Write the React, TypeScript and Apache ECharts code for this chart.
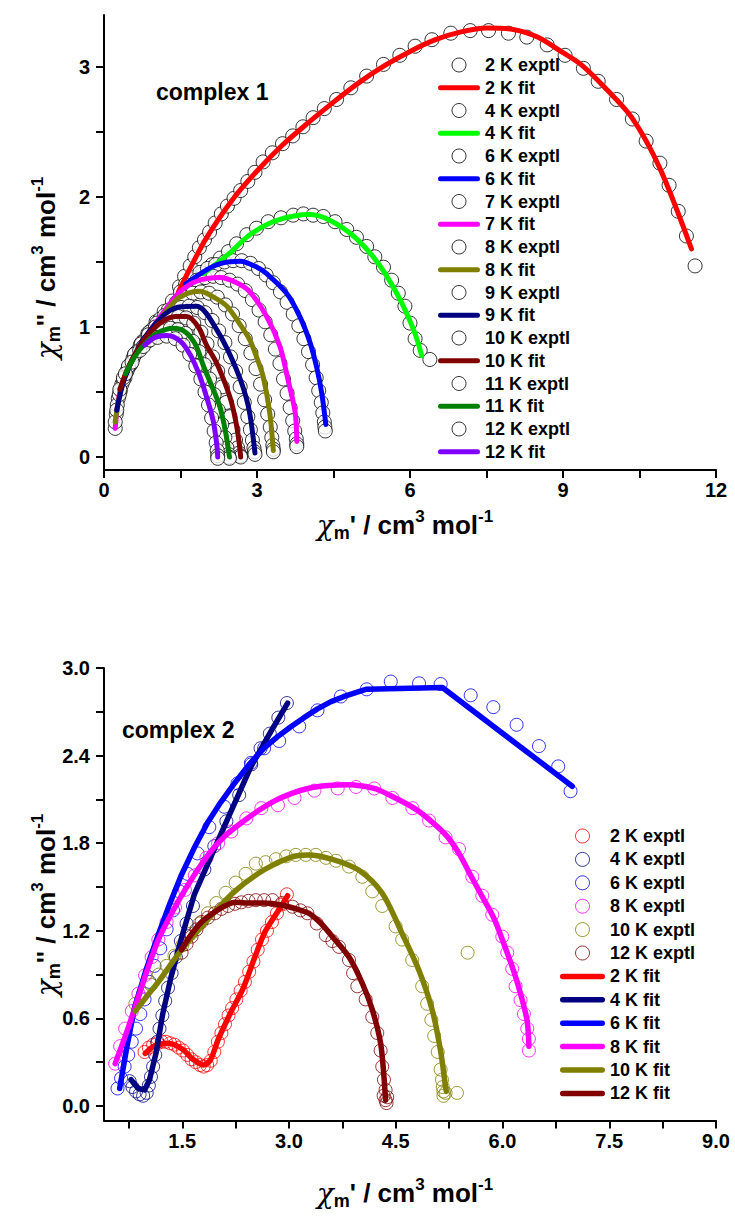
import React, { useEffect, useRef } from "react";
import * as echarts from "echarts";

const FONT = "'Liberation Sans', Arial, Helvetica, sans-serif";

// ---------- complex 1 (top) ----------
const TOP_X_TICKS = [0, 1.5, 3, 4.5, 6, 7.5, 9, 10.5, 12];
const TOP_X_LABELS = [0, 3, 6, 9, 12];
const TOP_Y_TICKS = [0, 0.5, 1, 1.5, 2, 2.5, 3];
const TOP_Y_LABELS = [0, 1, 2, 3];

const EXP1_2K = [[1.48,1.31],[1.58,1.39],[1.69,1.47],[1.78,1.54],[1.87,1.61],[1.97,1.67],[2.07,1.73],[2.18,1.80],[2.30,1.87],[2.42,1.93],[2.55,1.99],[2.68,2.05],[2.82,2.12],[2.96,2.19],[3.12,2.27],[3.30,2.34],[3.50,2.41],[3.70,2.47],[3.90,2.54],[4.10,2.61],[4.32,2.68],[4.56,2.75],[4.84,2.84],[5.15,2.93],[5.48,3.02],[5.80,3.09],[6.10,3.16],[6.43,3.21],[6.80,3.26],[7.18,3.28],[7.54,3.28],[7.93,3.26],[8.29,3.23],[8.69,3.17],[9.04,3.09],[9.40,2.99],[9.69,2.89],[10.05,2.75],[10.36,2.60],[10.63,2.43],[10.90,2.26],[11.08,2.09],[11.26,1.89],[11.42,1.70],[11.59,1.47]];
const FIT1_2K = [[1.46,1.27],[1.7,1.46],[2.0,1.68],[2.5,1.97],[3.0,2.2],[3.5,2.40],[4.0,2.57],[4.5,2.73],[5.0,2.88],[5.5,3.01],[6.0,3.12],[6.5,3.21],[7.0,3.27],[7.5,3.30],[8.0,3.29],[8.5,3.23],[9.0,3.11],[9.35,3.02],[9.8,2.85],[10.35,2.61],[10.9,2.22],[11.52,1.60]];

const EXP1_4K = [[1.95,1.41],[2.12,1.48],[2.28,1.53],[2.44,1.58],[2.60,1.64],[2.80,1.71],[2.99,1.76],[3.22,1.81],[3.47,1.84],[3.71,1.86],[3.91,1.87],[4.10,1.86],[4.30,1.85],[4.53,1.81],[4.76,1.75],[4.95,1.69],[5.15,1.62],[5.31,1.54],[5.48,1.46],[5.64,1.36],[5.77,1.26],[5.90,1.16],[6.00,1.03],[6.10,0.91],[6.20,0.82],[6.39,0.75]];
const FIT1_4K = [[1.95,1.41],[2.44,1.56],[2.86,1.71],[3.39,1.82],[4.04,1.865],[4.69,1.76],[5.28,1.54],[5.74,1.26],[6.07,0.98],[6.23,0.78]];

const EXP1_6K = [[1.60,1.33],[1.74,1.38],[1.88,1.42],[2.03,1.45],[2.19,1.48],[2.36,1.50],[2.53,1.51],[2.70,1.51],[2.87,1.49],[3.03,1.45],[3.18,1.40],[3.32,1.34],[3.46,1.27],[3.59,1.19],[3.71,1.10],[3.82,1.01],[3.92,0.91],[4.01,0.81],[4.09,0.71],[4.16,0.61],[4.21,0.51],[4.26,0.42],[4.29,0.34],[4.32,0.27],[4.33,0.23],[4.34,0.20]];
const FIT1_6K = [[1.6,1.33],[2.01,1.44],[2.3,1.49],[2.67,1.505],[3.0,1.46],[3.19,1.41],[3.58,1.26],[3.84,1.08],[4.04,0.88],[4.17,0.69],[4.27,0.49],[4.35,0.25]];

const EXP1_7K = [[0.22,0.22],[0.24,0.33],[0.28,0.45],[0.35,0.56],[0.45,0.66],[0.57,0.76],[0.71,0.86],[0.86,0.95],[1.02,1.04],[1.18,1.12],[1.34,1.20],[1.50,1.27],[1.66,1.32],[1.82,1.36],[1.98,1.38],[2.14,1.39],[2.30,1.38],[2.46,1.36],[2.62,1.33],[2.77,1.28],[2.91,1.21],[3.04,1.13],[3.16,1.04],[3.27,0.94],[3.36,0.83],[3.45,0.72],[3.52,0.60],[3.59,0.49],[3.65,0.38],[3.70,0.28],[3.74,0.20],[3.77,0.14],[3.78,0.10],[3.78,0.08]];
const FIT1_7K = [[0.22,0.22],[0.3,0.48],[0.5,0.70],[0.8,0.91],[1.2,1.13],[1.49,1.27],[1.8,1.35],[2.27,1.38],[2.6,1.34],[2.86,1.27],[3.19,1.08],[3.45,0.85],[3.61,0.59],[3.75,0.34],[3.78,0.12]];

const EXP1_8K = [[0.22,0.27],[0.26,0.40],[0.32,0.51],[0.41,0.61],[0.52,0.71],[0.65,0.81],[0.79,0.90],[0.94,0.98],[1.10,1.06],[1.26,1.13],[1.42,1.19],[1.58,1.23],[1.74,1.26],[1.90,1.27],[2.06,1.26],[2.22,1.23],[2.38,1.17],[2.52,1.10],[2.65,1.01],[2.77,0.91],[2.88,0.80],[2.98,0.68],[3.07,0.56],[3.15,0.44],[3.21,0.33],[3.26,0.23],[3.29,0.15],[3.31,0.09],[3.32,0.06],[3.32,0.04]];
const FIT1_8K = [[0.22,0.27],[0.35,0.55],[0.6,0.78],[1.0,1.01],[1.39,1.20],[1.65,1.26],[1.88,1.275],[2.15,1.23],[2.41,1.16],[2.65,1.03],[2.86,0.90],[3.0,0.76],[3.12,0.62],[3.25,0.34],[3.32,0.05]];

const EXP1_9K = [[0.25,0.36],[0.30,0.48],[0.38,0.59],[0.48,0.69],[0.60,0.79],[0.74,0.88],[0.89,0.96],[1.04,1.03],[1.19,1.09],[1.35,1.13],[1.51,1.15],[1.67,1.16],[1.83,1.15],[1.98,1.11],[2.12,1.05],[2.25,0.97],[2.37,0.88],[2.48,0.77],[2.58,0.66],[2.67,0.54],[2.75,0.42],[2.82,0.31],[2.87,0.21],[2.91,0.13],[2.94,0.07],[2.95,0.04],[2.96,0.02]];
const FIT1_9K = [[0.25,0.36],[0.4,0.6],[0.7,0.86],[1.0,1.02],[1.23,1.11],[1.5,1.155],[1.82,1.16],[2.21,0.98],[2.6,0.67],[2.83,0.39],[2.96,0.03]];

const EXP1_10K = [[0.31,0.52],[0.38,0.61],[0.48,0.70],[0.60,0.79],[0.73,0.87],[0.87,0.94],[1.01,1.00],[1.16,1.04],[1.31,1.07],[1.46,1.08],[1.61,1.07],[1.76,1.03],[1.90,0.96],[2.02,0.87],[2.13,0.77],[2.23,0.66],[2.32,0.54],[2.40,0.42],[2.47,0.31],[2.53,0.21],[2.58,0.13],[2.62,0.07],[2.65,0.03],[2.67,0.01],[2.68,0.0]];
const FIT1_10K = [[0.31,0.52],[0.5,0.71],[0.8,0.91],[1.1,1.03],[1.4,1.08],[1.62,1.08],[1.85,1.0],[2.01,0.86],[2.2,0.73],[2.37,0.57],[2.5,0.42],[2.6,0.24],[2.66,0.08],[2.68,0.0]];

const EXP1_11K = [[0.42,0.64],[0.55,0.73],[0.70,0.82],[0.85,0.89],[1.0,0.94],[1.15,0.97],[1.30,0.99],[1.45,0.98],[1.60,0.95],[1.74,0.89],[1.86,0.81],[1.97,0.71],[2.07,0.60],[2.16,0.48],[2.24,0.36],[2.31,0.25],[2.37,0.15],[2.41,0.07],[2.44,0.02],[2.45,0.0],[2.46,-0.01]];
const FIT1_11K = [[0.42,0.64],[0.6,0.77],[0.8,0.87],[1.03,0.95],[1.36,0.99],[1.6,0.96],[1.8,0.86],[1.95,0.70],[2.11,0.55],[2.27,0.39],[2.38,0.2],[2.46,0.0]];

const EXP1_12K = [[0.77,0.85],[0.90,0.90],[1.05,0.92],[1.23,0.93],[1.40,0.91],[1.55,0.86],[1.68,0.79],[1.80,0.70],[1.90,0.60],[1.98,0.50],[2.05,0.40],[2.11,0.30],[2.16,0.20],[2.20,0.11],[2.22,0.05],[2.23,0.01],[2.23,-0.01]];
const FIT1_12K = [[0.80,0.86],[1.0,0.92],[1.23,0.935],[1.5,0.89],[1.7,0.78],[1.88,0.62],[2.02,0.45],[2.14,0.28],[2.21,0.1],[2.23,0.0]];

// ---------- complex 2 (bottom) ----------
const BOT_X_TICKS = [0.75, 1.5, 2.25, 3, 3.75, 4.5, 5.25, 6, 6.75, 7.5, 8.25, 9];
const BOT_X_LABELS = [1.5, 3, 4.5, 6, 7.5, 9];
const BOT_Y_TICKS = [0, 0.3, 0.6, 0.9, 1.2, 1.5, 1.8, 2.1, 2.4, 2.7, 3.0];
const BOT_Y_LABELS = [0, 0.6, 1.2, 1.8, 2.4, 3.0];

const EXP2_2K = [[0.97,0.37],[1.03,0.40],[1.09,0.42],[1.15,0.43],[1.21,0.44],[1.27,0.44],[1.33,0.43],[1.39,0.42],[1.45,0.40],[1.51,0.38],[1.57,0.35],[1.63,0.32],[1.69,0.30],[1.75,0.28],[1.80,0.27],[1.85,0.28],[1.90,0.31],[1.95,0.37],[2.00,0.44],[2.05,0.50],[2.10,0.56],[2.15,0.62],[2.20,0.67],[2.26,0.73],[2.32,0.79],[2.38,0.85],[2.44,0.92],[2.50,0.99],[2.56,1.07],[2.62,1.14],[2.69,1.20],[2.76,1.26],[2.83,1.32],[2.90,1.38],[2.97,1.45]];
const FIT2_2K = [[0.98,0.36],[1.1,0.41],[1.3,0.43],[1.5,0.39],[1.65,0.32],[1.8,0.28],[1.9,0.32],[2.0,0.45],[2.19,0.65],[2.35,0.80],[2.52,1.02],[2.66,1.19],[2.84,1.33],[2.98,1.44]];

const EXP2_4K = [[0.76,0.17],[0.80,0.13],[0.85,0.10],[0.90,0.08],[0.95,0.07],[1.0,0.09],[1.03,0.14],[1.06,0.2],[1.09,0.27],[1.12,0.35],[1.15,0.44],[1.18,0.53],[1.22,0.62],[1.26,0.72],[1.30,0.81],[1.35,0.91],[1.41,1.02],[1.48,1.13],[1.56,1.25],[1.65,1.37],[1.81,1.62],[1.95,1.78],[2.12,1.95],[2.30,2.13],[2.47,2.34],[2.60,2.45],[2.73,2.55],[2.85,2.66],[2.97,2.76]];
const FIT2_4K = [[0.78,0.18],[0.88,0.12],[0.97,0.11],[1.04,0.18],[1.13,0.36],[1.225,0.63],[1.34,0.88],[1.5,1.17],[1.67,1.45],[2.05,1.87],[2.46,2.32],[2.75,2.57],[2.98,2.76]];

const EXP2_6K = [[0.59,0.12],[0.64,0.19],[0.69,0.27],[0.74,0.35],[0.79,0.44],[0.85,0.53],[0.91,0.63],[0.97,0.73],[1.04,0.85],[1.11,0.96],[1.19,1.08],[1.28,1.21],[1.37,1.34],[1.459,1.47],[1.575,1.59],[1.715,1.73],[1.88,1.91],[2.09,2.05],[2.277,2.21],[2.464,2.35],[2.65,2.45],[2.862,2.50],[3.143,2.60],[3.40,2.71],[3.728,2.805],[4.092,2.854],[4.43,2.907],[4.827,2.895],[5.131,2.89],[5.553,2.813],[5.871,2.732],[6.198,2.611],[6.512,2.465],[6.783,2.326],[6.956,2.156]];
const FIT2_6K = [[0.62,0.12],[0.72,0.40],[0.83,0.676],[0.99,0.93],[1.155,1.163],[1.32,1.38],[1.483,1.577],[1.67,1.77],[1.857,1.942],[2.04,2.08],[2.231,2.209],[2.44,2.34],[2.652,2.453],[2.84,2.53],[3.026,2.598],[3.21,2.66],[3.40,2.72],[3.59,2.77],[3.774,2.805],[4.09,2.855],[5.155,2.866],[6.98,2.19]];

const EXP2_8K = [[0.557,0.29],[0.627,0.41],[0.697,0.53],[0.791,0.65],[0.884,0.77],[0.977,0.895],[1.07,1.02],[1.164,1.14],[1.28,1.26],[1.397,1.36],[1.537,1.48],[1.677,1.58],[1.84,1.70],[2.004,1.80],[2.19,1.88],[2.40,1.97],[2.611,2.04],[2.844,2.06],[3.077,2.11],[3.357,2.16],[3.684,2.175],[3.94,2.185],[4.197,2.175],[4.453,2.11],[4.734,2.04],[4.968,1.955],[5.2,1.84],[5.389,1.76],[5.576,1.57],[5.716,1.44],[5.856,1.31],[5.997,1.16],[6.067,1.05],[6.137,0.94],[6.184,0.82],[6.254,0.725],[6.301,0.63],[6.348,0.53],[6.371,0.46],[6.371,0.38]];
const FIT2_8K = [[0.557,0.29],[0.70,0.48],[0.84,0.68],[1.0,0.92],[1.164,1.14],[1.35,1.32],[1.537,1.48],[1.72,1.62],[1.911,1.75],[2.1,1.85],[2.331,1.94],[2.56,2.02],[2.797,2.09],[3.03,2.14],[3.264,2.175],[3.55,2.195],[3.824,2.20],[4.197,2.175],[4.43,2.125],[4.757,2.04],[5.0,1.95],[5.225,1.845],[5.4,1.72],[5.552,1.58],[5.72,1.43],[5.88,1.285],[6.02,1.11],[6.16,0.92],[6.27,0.74],[6.347,0.58],[6.371,0.41]];

const EXP2_10K = [[0.84,0.70],[0.95,0.77],[1.06,0.83],[1.17,0.90],[1.28,0.96],[1.39,1.03],[1.50,1.10],[1.62,1.18],[1.74,1.25],[1.86,1.32],[1.98,1.39],[2.11,1.46],[2.25,1.53],[2.39,1.59],[2.534,1.66],[2.67,1.67],[2.815,1.69],[2.96,1.71],[3.095,1.72],[3.235,1.72],[3.375,1.72],[3.52,1.70],[3.66,1.68],[3.843,1.64],[4.03,1.57],[4.17,1.47],[4.31,1.37],[4.498,1.23],[4.59,1.14],[4.731,1.0],[4.871,0.82],[4.941,0.70],[5.0,0.59],[5.04,0.48],[5.09,0.37],[5.13,0.25],[5.15,0.18],[5.16,0.13],[5.17,0.10],[5.17,0.07],[5.2,0.09],[5.36,0.09],[5.51,1.05]];
const FIT2_10K = [[0.84,0.65],[1.0,0.75],[1.164,0.85],[1.49,1.07],[1.864,1.28],[2.237,1.47],[2.657,1.62],[3.03,1.705],[3.264,1.72],[3.609,1.69],[3.983,1.615],[4.31,1.457],[4.59,1.18],[4.825,0.93],[5.011,0.66],[5.129,0.38],[5.2,0.13],[5.21,0.1]];

const EXP2_12K = [[1.49,1.05],[1.56,1.11],[1.63,1.16],[1.70,1.21],[1.77,1.26],[1.86,1.29],[1.957,1.32],[2.05,1.35],[2.144,1.37],[2.24,1.385],[2.33,1.395],[2.43,1.405],[2.534,1.41],[2.65,1.41],[2.768,1.41],[2.9,1.39],[3.048,1.365],[3.16,1.34],[3.258,1.32],[3.39,1.25],[3.516,1.17],[3.61,1.13],[3.703,1.09],[3.843,1.0],[3.9,0.91],[3.96,0.82],[4.077,0.73],[4.17,0.61],[4.24,0.50],[4.287,0.38],[4.31,0.27],[4.334,0.18],[4.357,0.11],[4.38,0.06],[4.357,0.04],[4.33,0.07],[4.37,0.02]];
const FIT2_12K = [[1.49,1.07],[1.62,1.17],[1.771,1.26],[1.93,1.32],[2.097,1.37],[2.25,1.395],[2.44,1.39],[2.65,1.39],[2.908,1.375],[3.1,1.35],[3.282,1.32],[3.45,1.25],[3.609,1.16],[3.843,1.02],[4.03,0.84],[4.17,0.66],[4.287,0.43],[4.334,0.20],[4.357,0.04]];

const TOP_SETS = [
  { t: "2 K", color: "#FF0000", exp: EXP1_2K, fit: FIT1_2K },
  { t: "4 K", color: "#00FF00", exp: EXP1_4K, fit: FIT1_4K },
  { t: "6 K", color: "#0000FF", exp: EXP1_6K, fit: FIT1_6K },
  { t: "7 K", color: "#FF00FF", exp: EXP1_7K, fit: FIT1_7K },
  { t: "8 K", color: "#808000", exp: EXP1_8K, fit: FIT1_8K },
  { t: "9 K", color: "#000080", exp: EXP1_9K, fit: FIT1_9K },
  { t: "10 K", color: "#800000", exp: EXP1_10K, fit: FIT1_10K },
  { t: "11 K", color: "#008000", exp: EXP1_11K, fit: FIT1_11K },
  { t: "12 K", color: "#8000FF", exp: EXP1_12K, fit: FIT1_12K },
];

const BOT_SETS = [
  { t: "2 K", color: "#FF0000", exp: EXP2_2K, fit: FIT2_2K, smooth: 0.3 },
  { t: "4 K", color: "#000080", exp: EXP2_4K, fit: FIT2_4K, smooth: 0 },
  { t: "6 K", color: "#0000FF", exp: EXP2_6K, fit: FIT2_6K, smooth: 0 },
  { t: "8 K", color: "#FF00FF", exp: EXP2_8K, fit: FIT2_8K, smooth: 0.3 },
  { t: "10 K", color: "#808000", exp: EXP2_10K, fit: FIT2_10K, smooth: 0.3 },
  { t: "12 K", color: "#800000", exp: EXP2_12K, fit: FIT2_12K, smooth: 0.3 },
];

const SUFFIX = " #2";
const LINE_ICON_TOP = "path://M2.5,0 L39.5,0 A2.5,2.5 0 0 1 39.5,5 L2.5,5 A2.5,2.5 0 0 1 2.5,0 Z";
const LINE_ICON_BOT = "path://M2.75,0 L42.25,0 A2.75,2.75 0 0 1 42.25,5.5 L2.75,5.5 A2.75,2.75 0 0 1 2.75,0 Z";

function titleRich() {
  return {
    chi: { fontFamily: "'DejaVu Serif', serif", fontStyle: "italic", fontSize: 28, fill: "#000", lineHeight: 34, verticalAlign: "middle" },
    sub: { fontFamily: FONT, fontWeight: "bold", fontSize: 18, fill: "#000", lineHeight: 17, verticalAlign: "bottom" },
    main: { fontFamily: FONT, fontWeight: "bold", fontSize: 26, fill: "#000", lineHeight: 34, verticalAlign: "middle" },
    sup: { fontFamily: FONT, fontWeight: "bold", fontSize: 17, fill: "#000", lineHeight: 17, verticalAlign: "top" },
  };
}

function axisCommon(tickVals: number[], labelVals: number[], fmt: (v: number) => string, isY: boolean) {
  return {
    type: "value",
    splitLine: { show: false },
    axisLine: { show: true, onZero: false, lineStyle: { color: "#000", width: 2 } },
    axisTick: { show: true, customValues: tickVals, length: 8, inside: false, lineStyle: { color: "#000", width: 2 } },
    axisLabel: {
      show: true,
      customValues: labelVals,
      formatter: fmt,
      color: "#000",
      fontFamily: FONT,
      fontWeight: "bold",
      fontSize: 20,
      margin: isY ? 14 : 10,
      hideOverlap: false,
    },
  };
}

export default function App() {
  const ref = useRef<HTMLDivElement>(null);
  useEffect(() => {
    if (!ref.current) return;
    const chart = echarts.init(ref.current, null, { renderer: "svg" });

    const series: any[] = [];
    const topLegend: any[] = [];
    TOP_SETS.forEach((s) => {
      series.push({
        type: "scatter",
        name: s.t + " exptl",
        xAxisIndex: 0,
        yAxisIndex: 0,
        data: s.exp,
        symbol: "circle",
        symbolSize: 14,
        itemStyle: { color: "#fff", borderColor: "#000", borderWidth: 1 },
        silent: true,
      });
      series.push({
        type: "line",
        name: s.t + " fit",
        xAxisIndex: 0,
        yAxisIndex: 0,
        data: s.fit,
        symbol: "none",
        showSymbol: false,
        smooth: 0.3,
        lineStyle: { color: s.color, width: 5, cap: "round", join: "round" },
        itemStyle: { color: s.color },
        silent: true,
      });
      topLegend.push({ name: s.t + " exptl", icon: "circle" });
      topLegend.push({ name: s.t + " fit", icon: LINE_ICON_TOP, itemStyle: { color: s.color, borderWidth: 0 } });
    });

    const botExp: any[] = [];
    const botFit: any[] = [];
    BOT_SETS.forEach((s) => {
      series.push({
        type: "scatter",
        name: s.t + " exptl" + SUFFIX,
        xAxisIndex: 1,
        yAxisIndex: 1,
        data: s.exp,
        symbol: "circle",
        symbolSize: 13,
        itemStyle: { color: "transparent", borderColor: s.color, borderWidth: 1 },
        silent: true,
      });
      botExp.push({ name: s.t + " exptl" + SUFFIX, icon: "circle" });
    });
    BOT_SETS.forEach((s) => {
      series.push({
        type: "line",
        name: s.t + " fit" + SUFFIX,
        xAxisIndex: 1,
        yAxisIndex: 1,
        data: s.fit,
        symbol: "none",
        showSymbol: false,
        smooth: s.smooth,
        lineStyle: { color: s.color, width: 5.5, cap: "round", join: "round" },
        itemStyle: { color: s.color },
        silent: true,
      });
      botFit.push({ name: s.t + " fit" + SUFFIX, icon: LINE_ICON_BOT, itemStyle: { color: s.color, borderWidth: 0 } });
    });

    const legendText = { fontSize: 18, fontWeight: "bold", fontFamily: FONT, color: "#000" };

    const xTitle = "{chi|χ}{sub|m}{main|' / cm}{sup|3}{main| mol}{sup|-1}";
    const yTitle = "{chi|χ}{sub|m}{main|'' / cm}{sup|3}{main| mol}{sup|-1}";

    chart.setOption({
      animation: false,
      backgroundColor: "#fff",
      grid: [
        { left: 104, top: 15, width: 612, height: 455, containLabel: false },
        { left: 104, top: 668, width: 612, height: 452.6, containLabel: false },
      ],
      xAxis: [
        { ...axisCommon(TOP_X_TICKS, TOP_X_LABELS, (v: number) => String(v), false), gridIndex: 0, min: 0, max: 12 },
        { ...axisCommon(BOT_X_TICKS, BOT_X_LABELS, (v: number) => v.toFixed(1), false), gridIndex: 1, min: 0.4, max: 9 },
      ],
      yAxis: [
        { ...axisCommon(TOP_Y_TICKS, TOP_Y_LABELS, (v: number) => String(v), true), gridIndex: 0, min: -0.1, max: 3.4 },
        { ...axisCommon(BOT_Y_TICKS, BOT_Y_LABELS, (v: number) => v.toFixed(1), true), gridIndex: 1, min: -0.1, max: 3.0 },
      ],
      legend: [
        {
          data: topLegend,
          orient: "vertical",
          left: 438,
          top: 56,
          padding: 0,
          itemWidth: 42,
          itemHeight: 14,
          itemGap: 4.75,
          selectedMode: false,
          textStyle: legendText,
          itemStyle: { borderWidth: 1 },
        },
        {
          data: [...botExp, ...botFit],
          orient: "vertical",
          left: 560,
          top: 827,
          padding: 0,
          itemWidth: 45,
          itemHeight: 14,
          itemGap: 5.4,
          selectedMode: false,
          formatter: (n: string) => n.replace(SUFFIX, ""),
          textStyle: legendText,
          itemStyle: { borderWidth: 1 },
        },
      ],
      graphic: [
        { type: "text", x: 156, y: 92, silent: true, style: { text: "complex 1", fill: "#000", fontFamily: FONT, fontWeight: "bold", fontSize: 23, align: "left", verticalAlign: "middle" } },
        { type: "text", x: 122, y: 730, silent: true, style: { text: "complex 2", fill: "#000", fontFamily: FONT, fontWeight: "bold", fontSize: 23, align: "left", verticalAlign: "middle" } },
        { type: "text", x: 405, y: 525, silent: true, style: { text: xTitle, rich: titleRich(), align: "center", verticalAlign: "middle" } },
        { type: "text", x: 405, y: 1193, silent: true, style: { text: xTitle, rich: titleRich(), align: "center", verticalAlign: "middle" } },
        { type: "text", x: 46, y: 268, rotation: Math.PI / 2, silent: true, style: { text: yTitle, rich: titleRich(), align: "center", verticalAlign: "middle" } },
        { type: "text", x: 46, y: 905, rotation: Math.PI / 2, silent: true, style: { text: yTitle, rich: titleRich(), align: "center", verticalAlign: "middle" } },
      ],
      series,
    });

    return () => chart.dispose();
  }, []);

  return <div ref={ref} style={{ position: "absolute", left: 0, top: 0, width: 735, height: 1222, background: "#fff" }} />;
}
